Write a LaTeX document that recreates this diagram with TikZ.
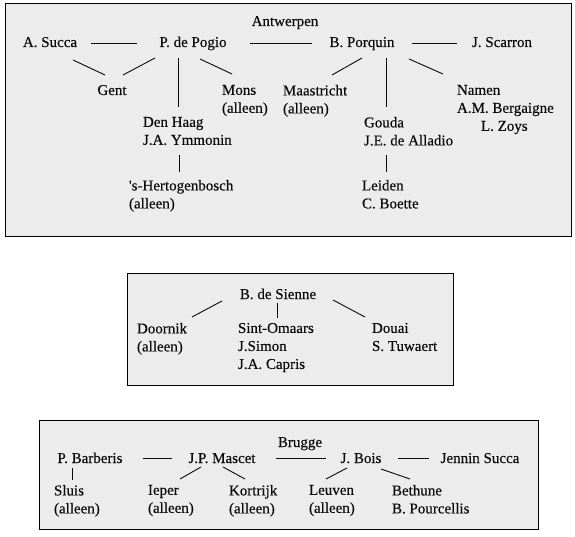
\documentclass[tikz,border=0pt]{standalone}
\usepackage{fontspec}
\setmainfont{Liberation Serif}[FakeBold=0.3]
\newfontfamily\rawserif{Liberation Serif}[FakeBold=0.3]
\definecolor{boxfill}{RGB}{236,236,236}
\definecolor{inkc}{RGB}{10,10,10}
\begin{document}
\begin{tikzpicture}[x=1pt,y=-1pt,
  lbl/.style={inner sep=0pt, outer sep=0pt, text=inkc, font=\fontsize{15}{18}\selectfont},
  one/.style={lbl, anchor=base},
  multi/.style={lbl, anchor=north west, align=left},
  link/.style={draw=inkc, line width=0.9pt},
  panel/.style={draw=black, line width=1pt, fill=boxfill}]
\fill[white] (0,0) rectangle (575,537);
\useasboundingbox (0,0) rectangle (575,537);
% panels
\path[panel] (5,4) rectangle (571,237);
\path[panel] (127,273) rectangle (453,385);
\path[panel] (39,420) rectangle (538,529);
% ---- panel 1
\node[one] (antw) at (285,26) {Antwerpen};
\node[one] (asucca) at (50,47) {A. Succa};
\node[one] (pogio) at (193,47) {P. de Pogio};
\node[one] (porquin) at (362,47) {B. Porquin};
\node[one] (scarron) at (502,47) {J. Scarron};
\node[one] (gent) at (112,95) {Gent};
\node[multi] (mons) at (222,85) {Mons\\(alleen)};
\node[multi] (denhaag) at (143,117) {Den Haag\\J.A. Ymmonin};
\node[multi] (hertog) at (129,180) {{\rawserif\fontsize{15}{18}\selectfont'}s-Hertogenbosch\\(alleen)};
\node[multi] (maas) at (283,85) {Maastricht\\(alleen)};
\node[multi] (gouda) at (364,117) {Gouda\\J.E. de Alladio};
\node[multi] (leiden) at (362,180) {Leiden\\C. Boette};
\node[multi] (namen) at (457,85) {Namen\\A.M. Bergaigne\\\hspace*{24pt}L. Zoys};
\draw[link] ([shift={(41,-4)}]asucca.base) -- ([shift={(-56,-4)}]pogio.base);
\draw[link] ([shift={(57,-4)}]pogio.base) -- ([shift={(-50,-4)}]porquin.base);
\draw[link] ([shift={(50,-4)}]porquin.base) -- ([shift={(-45,-4)}]scarron.base);
\draw[link] ([shift={(23,13)}]asucca.base) -- ([shift={(-7,-20)}]gent.base);
\draw[link] ([shift={(-38,11)}]pogio.base) -- ([shift={(11,-20)}]gent.base);
\draw[link] ([shift={(-15,11)}]pogio.base) -- ([shift={(35,-10)}]denhaag.north west);
\draw[link] ([shift={(7,12)}]pogio.base) -- ([shift={(10,-11)}]mons.north west);
\draw[link] ([shift={(36,38)}]denhaag.north west) -- ([shift={(50,-8)}]hertog.north west);
\draw[link] ([shift={(0,11)}]porquin.base) -- ([shift={(49,-10)}]maas.north west);
\draw[link] ([shift={(24,11)}]porquin.base) -- ([shift={(22,-10)}]gouda.north west);
\draw[link] ([shift={(22,38)}]gouda.north west) -- ([shift={(24,-8)}]leiden.north west);
\draw[link] ([shift={(47,12)}]porquin.base) -- ([shift={(-14,-11)}]namen.north west);
% ---- panel 2
\node[one] (sienne) at (278,299) {B. de Sienne};
\node[multi] (doornik) at (137,323) {Doornik\\(alleen)};
\node[multi] (sint) at (238,323) {Sint-Omaars\\J.Simon\\J.A. Capris};
\node[multi] (douai) at (372,323) {Douai\\S. Tuwaert};
\draw[link] ([shift={(-56,2)}]sienne.base) -- ([shift={(55,-6)}]doornik.north west);
\draw[link] ([shift={(-1,4)}]sienne.base) -- ([shift={(39,-5)}]sint.north west);
\draw[link] ([shift={(55,1)}]sienne.base) -- ([shift={(-7,-6)}]douai.north west);
% ---- panel 3
\node[one] (brugge) at (300,447) {Brugge};
\node[one] (barberis) at (90,463) {P. Barberis};
\node[one] (mascet) at (222,463) {J.P. Mascet};
\node[one] (bois) at (361,463) {J. Bois};
\node[one] (jennin) at (480,463) {Jennin Succa};
\node[multi] (sluis) at (54,485) {Sluis\\(alleen)};
\node[multi] (ieper) at (148,485) {Ieper\\(alleen)};
\node[multi] (kortrijk) at (229,485) {Kortrijk\\(alleen)};
\node[multi] (leuven) at (309,485) {Leuven\\(alleen)};
\node[multi] (bethune) at (392,485) {Bethune\\B. Pourcellis};
\draw[link] ([shift={(53,-5)}]barberis.base) -- ([shift={(-50,-5)}]mascet.base);
\draw[link] ([shift={(54,-5)}]mascet.base) -- ([shift={(-35,-5)}]bois.base);
\draw[link] ([shift={(37,-5)}]bois.base) -- ([shift={(-51,-5)}]jennin.base);
\draw[link] ([shift={(-18,5)}]barberis.base) -- ([shift={(18,-5)}]sluis.north west);
\draw[link] ([shift={(-21,4)}]mascet.base) -- ([shift={(32,-6)}]ieper.north west);
\draw[link] ([shift={(1,4)}]mascet.base) -- ([shift={(16,-6)}]kortrijk.north west);
\draw[link] ([shift={(-14,5)}]bois.base) -- ([shift={(17,-6)}]leuven.north west);
\draw[link] ([shift={(20,6)}]bois.base) -- ([shift={(18,-6)}]bethune.north west);
\end{tikzpicture}
\end{document}
